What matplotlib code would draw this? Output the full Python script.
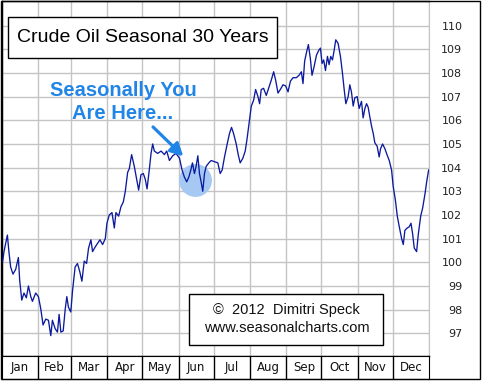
import matplotlib
matplotlib.use('Agg')
import matplotlib.pyplot as plt
from matplotlib.patches import Rectangle

# Сезонная кривая нефти (день года -> индекс)
days = [
    0.5, 1.7, 4.6, 6.0, 7.4, 9.4, 11.7, 14.0, 15.1, 16.9, 18.8, 20.8, 22.6, 24.6,
    26.0, 28.8, 31.1, 33.1, 35.1, 37.4, 39.7, 41.7, 43.1, 45.4, 47.4, 48.8, 50.3,
    52.3, 54.0, 55.4, 56.8, 58.8, 60.3, 62.5, 64.5, 66.5, 68.3, 70.3, 72.3, 74.0,
    76.0, 77.4, 79.7, 81.7, 83.7, 86.0, 88.3, 89.7, 91.7, 94.0, 96.0, 97.4, 99.7,
    101.7, 103.7, 105.4, 107.4, 108.8, 110.8, 113.1, 115.1, 116.8, 118.8, 120.8,
    122.5, 124.0, 126.0, 127.4, 128.8, 130.2, 133.1, 136.0, 138.8, 140.8, 143.1,
    145.9, 148.8, 151.7, 153.9, 155.9, 157.9, 159.7, 161.4, 162.8, 164.5, 165.9,
    167.4, 168.8, 170.2, 171.6, 173.1, 174.5, 176.8, 178.8, 181.6, 184.5, 186.5,
    188.2, 190.2, 192.5, 194.5, 196.2, 197.9, 200.2, 201.9, 203.6, 205.9, 207.9,
    209.3, 211.1, 213.1, 215.1, 216.8, 218.8, 220.2, 221.6, 223.6, 225.9, 228.2,
    230.2, 232.2, 233.9, 235.9, 237.9, 240.2, 242.5, 244.5, 246.5, 248.8, 251.6,
    253.9, 255.9, 257.3, 258.7, 260.2, 261.9, 263.6, 265.0, 266.7, 268.8, 270.7,
    272.2, 273.6, 275.0, 276.5, 278.2, 279.6, 281.0, 282.5, 283.9, 285.3, 287.3,
    289.3, 291.0, 292.5, 293.9, 295.9, 297.3, 298.7, 300.2, 301.6, 303.6, 305.3,
    307.3, 308.7, 310.2, 311.6, 313.0, 314.4, 315.9, 317.3, 318.7, 320.7, 322.4,
    323.6, 325.3, 327.3, 328.7, 331.0, 333.0, 334.4, 336.2, 337.9, 339.6, 341.6,
    343.0, 344.4, 346.4, 348.1, 349.6, 351.0, 352.4, 354.4, 355.9, 357.9, 359.6,
    361.6, 363.0, 364.7,
]
values = [
    100.03, 100.45, 101.15, 100.4, 99.8, 99.5, 99.7, 100.2, 99.25, 98.4, 98.7, 98.5,
    99.0, 98.55, 98.35, 98.7, 98.55, 98.05, 97.35, 97.6, 97.55, 96.9, 97.55, 97.2,
    97.05, 97.8, 97.05, 97.1, 98.0, 98.55, 98.1, 97.9, 98.8, 99.8, 99.95, 99.6,
    99.2, 100.05, 99.95, 100.6, 100.95, 100.45, 100.65, 100.8, 100.95, 100.75,
    101.0, 101.65, 102.0, 102.1, 101.45, 102.1, 101.95, 102.35, 102.55, 103.0,
    103.8, 103.95, 104.55, 104.05, 103.5, 103.05, 103.7, 103.75, 103.5, 103.1,
    103.95, 104.6, 105.0, 104.7, 104.6, 104.7, 104.55, 104.7, 104.3, 104.5, 104.6,
    104.4, 103.9, 103.6, 103.4, 103.6, 103.9, 104.2, 103.75, 104.05, 104.5, 103.75,
    103.4, 103.0, 103.75, 104.05, 104.2, 104.3, 104.25, 104.2, 103.75, 103.9,
    104.45, 105.0, 105.45, 105.7, 105.45, 105.0, 104.55, 104.2, 104.4, 104.7,
    105.15, 105.85, 106.6, 106.85, 107.3, 107.0, 106.7, 107.3, 107.35, 107.05,
    107.4, 107.7, 108.05, 107.7, 107.15, 107.3, 107.5, 107.45, 107.2, 107.65,
    107.8, 107.8, 107.9, 108.05, 107.55, 108.5, 108.85, 109.2, 108.6, 107.9,
    108.25, 108.75, 108.95, 109.05, 108.4, 108.55, 108.1, 108.7, 108.35, 108.7,
    108.55, 108.95, 109.4, 109.25, 108.7, 108.0, 107.3, 106.7, 107.0, 107.5,
    107.2, 106.6, 106.95, 107.0, 106.5, 106.8, 106.1, 106.5, 106.7, 106.55,
    106.15, 105.75, 105.45, 105.05, 104.9, 104.45, 104.8, 105.0, 104.8, 104.6,
    104.3, 103.9, 103.2, 102.65, 101.95, 101.5, 101.0, 100.75, 101.35, 101.45,
    101.5, 101.65, 101.2, 100.6, 100.45, 101.2, 101.95, 102.3, 102.9, 103.4, 103.9,
]

months = ['Jan', 'Feb', 'Mar', 'Apr', 'May', 'Jun', 'Jul', 'Aug', 'Sep', 'Oct', 'Nov', 'Dec']
month_days = [31, 28, 31, 30, 31, 30, 31, 31, 30, 31, 30, 31]
price_ticks = list(range(97, 111))

# "Вы здесь" — середина июня
here_day, here_value = 165.0, 103.47

W, H = 483, 382
fig = plt.figure(figsize=(W / 100, H / 100), dpi=100)


def px_rect(x0, y0, x1, y1):
    return [x0 / W, 1 - y1 / H, (x1 - x0) / W, (y1 - y0) / H]


bounds = [0]
for d in month_days:
    bounds.append(bounds[-1] + d)
mids = [(a + b) / 2 for a, b in zip(bounds[:-1], bounds[1:])]

ax = fig.add_axes(px_rect(2, 1, 429, 356))
ax.plot(days, values, color='#0c1a9e', linewidth=0.95, zorder=3)
ax.scatter([here_day], [here_value], s=560, color='#a6c9f3', linewidths=0, zorder=2)
ax.set_xlim(0, 365)
ax.set_ylim(96.04, 111.04)

ax.set_xticks(bounds)
ax.set_xticklabels([])
ax.set_yticks(price_ticks)
ax.grid(True, color='#c4c4c4', linewidth=1.0)
ax.set_axisbelow(True)
ax.yaxis.tick_right()
ax.tick_params(axis='both', length=0)
ax.tick_params(axis='y', pad=24, labelsize=8, labelcolor='#222222')
for lab in ax.get_yticklabels():
    lab.set_ha('right')
for side in ['left', 'top', 'bottom']:
    ax.spines[side].set_color('black')
    ax.spines[side].set_linewidth(1.0)
ax.spines['right'].set_color('#c4c4c4')

# Заголовок в рамке
ax.add_patch(Rectangle((0.014, 0.839), 0.630, 0.116, transform=ax.transAxes,
                       fc='white', ec='black', lw=1.0, zorder=5))
ax.text(0.329, 0.896, 'Crude Oil Seasonal 30 Years', transform=ax.transAxes,
        ha='center', va='center', fontsize=14, family='Liberation Sans', zorder=6)

# Подпись со стрелкой
ax.annotate('', xy=(156.6, 104.4), xytext=(127.4, 105.8),
            arrowprops=dict(arrowstyle='-|>,head_length=0.75,head_width=0.4',
                            color='#2185e6', lw=2.3), zorder=4)
ax.text(103.4, 107.02, 'Seasonally You', ha='center', va='baseline',
        fontsize=14.5, fontweight='bold', family='Liberation Sans', color='#2185e6', zorder=4)
ax.text(103.4, 106.05, 'Are Here...', ha='center', va='baseline',
        fontsize=14.5, fontweight='bold', family='Liberation Sans', color='#2185e6', zorder=4)

# Копирайт
ax.add_patch(Rectangle((0.438, 0.031), 0.455, 0.144, transform=ax.transAxes,
                       fc='white', ec='black', lw=1.0, zorder=5))
ax.text(0.666, 0.130, '©  2012  Dimitri Speck', transform=ax.transAxes,
        ha='center', va='center', fontsize=10.5, family='Liberation Sans', color='#111111', zorder=6)
ax.text(0.666, 0.080, 'www.seasonalcharts.com', transform=ax.transAxes,
        ha='center', va='center', fontsize=10.5, family='Liberation Sans', color='#111111', zorder=6)

# Полоса месяцев
ax2 = fig.add_axes(px_rect(2, 356, 429, 379))
ax2.set_xlim(0, 365)
ax2.set_ylim(0, 1)
ax2.set_xticks([])
ax2.set_yticks([])
for b in bounds[1:-1]:
    ax2.axvline(b, color='black', linewidth=1.0)
for m, name in zip(mids, months):
    ax2.text(m, 0.5, name, ha='center', va='center', fontsize=8.5, color='#111111')
for s in ax2.spines.values():
    s.set_color('black')

# Внешняя рамка
fig.patches.append(Rectangle((1 / W, 1 - 379 / H), 479 / W, 378 / H, transform=fig.transFigure,
                             fill=False, ec='black', lw=1.0))

fig.savefig('out.png', dpi=100)
